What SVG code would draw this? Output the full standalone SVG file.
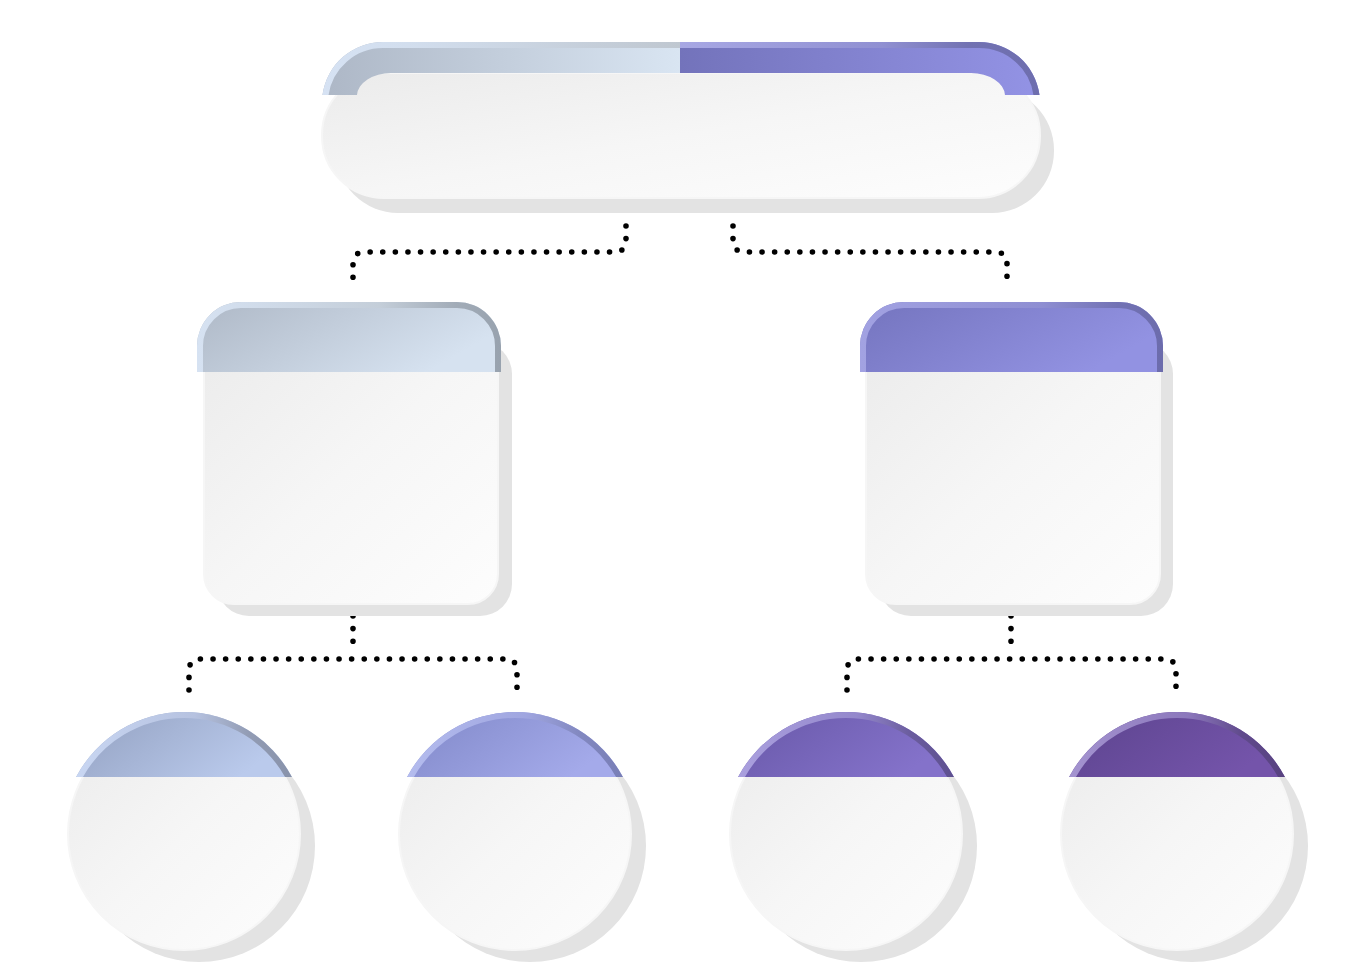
<svg xmlns="http://www.w3.org/2000/svg" width="1362" height="980" viewBox="0 0 1362 980">
  <style>
    .shadow { fill: #e3e3e3; }
    .body { fill: url(#gBody); stroke: #f6f6f6; stroke-width: 2; }
    .rim { fill: none; stroke-width: 12; }
    .dots { fill: none; stroke: #000; stroke-width: 5.6; stroke-linecap: round; stroke-dasharray: 0 12.6; }
  </style>
  <defs>
    <linearGradient id="gBody" x1="0" y1="0" x2="1" y2="1">
      <stop offset="0" stop-color="#ebebeb"/>
      <stop offset="0.5" stop-color="#f6f6f6"/>
      <stop offset="1" stop-color="#fdfdfd"/>
    </linearGradient>
    <linearGradient id="gTopHead" gradientUnits="userSpaceOnUse" x1="322" y1="0" x2="1040" y2="0">
      <stop offset="0" stop-color="#adb7c6"/>
      <stop offset="0.4986" stop-color="#d9e5f2"/>
      <stop offset="0.4986" stop-color="#7373bb"/>
      <stop offset="1" stop-color="#9393e5"/>
    </linearGradient>
    <linearGradient id="gTopRim" gradientUnits="userSpaceOnUse" x1="322" y1="0" x2="1040" y2="0">
      <stop offset="0" stop-color="#d6e2f3"/>
      <stop offset="0.12" stop-color="#d2deee"/>
      <stop offset="0.4986" stop-color="#bfc7d0"/>
      <stop offset="0.4986" stop-color="#a8a8e4"/>
      <stop offset="0.78" stop-color="#9090d2"/>
      <stop offset="0.9" stop-color="#7272b2"/>
      <stop offset="1" stop-color="#6e6eae"/>
    </linearGradient>
    <linearGradient id="gSqL" x1="0" y1="0" x2="1" y2="0.4">
      <stop offset="0" stop-color="#aeb8c6"/>
      <stop offset="1" stop-color="#d6e2f0"/>
    </linearGradient>
    <linearGradient id="gSqLRim" x1="0" y1="0" x2="1" y2="0">
      <stop offset="0" stop-color="#d6e2f2"/>
      <stop offset="0.6" stop-color="#c4ced9"/>
      <stop offset="0.85" stop-color="#a2acb8"/>
      <stop offset="1" stop-color="#98a2ae"/>
    </linearGradient>
    <linearGradient id="gSqR" x1="0" y1="0" x2="1" y2="0.4">
      <stop offset="0" stop-color="#7474be"/>
      <stop offset="1" stop-color="#9292e2"/>
    </linearGradient>
    <linearGradient id="gSqRRim" x1="0" y1="0" x2="1" y2="0">
      <stop offset="0" stop-color="#a2a2e2"/>
      <stop offset="0.6" stop-color="#8e8ed2"/>
      <stop offset="0.85" stop-color="#7272b4"/>
      <stop offset="1" stop-color="#6c6cac"/>
    </linearGradient>
    <linearGradient id="gC1" x1="0" y1="0" x2="1" y2="0.4">
      <stop offset="0" stop-color="#92a0c0"/>
      <stop offset="1" stop-color="#bacaec"/>
    </linearGradient>
    <linearGradient id="gC1Rim" x1="0" y1="0" x2="1" y2="0">
      <stop offset="0" stop-color="#c8d6f2"/>
      <stop offset="0.55" stop-color="#b6c2e0"/>
      <stop offset="0.8" stop-color="#929cb4"/>
      <stop offset="1" stop-color="#8892aa"/>
    </linearGradient>
    <linearGradient id="gC2" x1="0" y1="0" x2="1" y2="0.4">
      <stop offset="0" stop-color="#8088c8"/>
      <stop offset="1" stop-color="#a4aaea"/>
    </linearGradient>
    <linearGradient id="gC2Rim" x1="0" y1="0" x2="1" y2="0">
      <stop offset="0" stop-color="#b4bcee"/>
      <stop offset="0.55" stop-color="#a0a6e0"/>
      <stop offset="0.8" stop-color="#8288c0"/>
      <stop offset="1" stop-color="#787eb6"/>
    </linearGradient>
    <linearGradient id="gC3" x1="0" y1="0" x2="1" y2="0.4">
      <stop offset="0" stop-color="#6858a8"/>
      <stop offset="1" stop-color="#8472ca"/>
    </linearGradient>
    <linearGradient id="gC3Rim" x1="0" y1="0" x2="1" y2="0">
      <stop offset="0" stop-color="#aaa0de"/>
      <stop offset="0.55" stop-color="#9488cc"/>
      <stop offset="0.8" stop-color="#6a5c9e"/>
      <stop offset="1" stop-color="#5e5090"/>
    </linearGradient>
    <linearGradient id="gC4" x1="0" y1="0" x2="1" y2="0.4">
      <stop offset="0" stop-color="#5c448e"/>
      <stop offset="1" stop-color="#7454aa"/>
    </linearGradient>
    <linearGradient id="gC4Rim" x1="0" y1="0" x2="1" y2="0">
      <stop offset="0" stop-color="#a494d0"/>
      <stop offset="0.55" stop-color="#8c78bc"/>
      <stop offset="0.8" stop-color="#604a8c"/>
      <stop offset="1" stop-color="#584280"/>
    </linearGradient>

    <path id="pTopHead" d="M322.5,95 A61,61 0 0 1 383,42 H979 A61,61 0 0 1 1039.5,95 H1005 A34,23 0 0 0 971,73 H391 A34,23 0 0 0 357,95 Z"/>
    <clipPath id="cTopHead"><use href="#pTopHead"/></clipPath>

    <path id="pSqL" d="M197,372 V346 A44,44 0 0 1 241,302 H457 A44,44 0 0 1 501,346 V372 Z"/>
    <clipPath id="cSqL"><use href="#pSqL"/></clipPath>
    <path id="pSqR" d="M860,372 V346 A44,44 0 0 1 904,302 H1119 A44,44 0 0 1 1163,346 V372 Z"/>
    <clipPath id="cSqR"><use href="#pSqR"/></clipPath>

    <path id="pCap" d="M-107.9,0 A122,122 0 0 1 107.9,0 Z"/>
    <clipPath id="cCap"><use href="#pCap"/></clipPath>
  </defs>

  <rect width="1362" height="980" fill="#ffffff"/>

  <g id="connectors">
    <path class="dots" d="M626,226 V240 Q626,252 614,252 H365 Q353,252 353,264 V286"/>
    <path class="dots" d="M733,226 V240 Q733,252 745,252 H995 Q1007,252 1007,264 V286"/>
    <path class="dots" d="M353,616 V647"/>
    <path class="dots" d="M189,690 V671 Q189,659 201,659 H505 Q517,659 517,671 V690"/>
    <path class="dots" d="M1011,616 V647"/>
    <path class="dots" d="M847,690 V671 Q847,659 859,659 H1164 Q1176,659 1176,671 V690"/>
  </g>

  <g id="node-top">
    <rect class="shadow" x="336" y="88" width="718" height="125" rx="62"/>
    <rect class="body" x="322" y="73" width="718" height="125" rx="62"/>
    <use href="#pTopHead" fill="url(#gTopHead)"/>
    <path class="rim" clip-path="url(#cTopHead)" stroke="url(#gTopRim)" d="M322.5,95 A61,61 0 0 1 383,42 H979 A61,61 0 0 1 1039.5,95"/>
  </g>

  <g id="node-left">
    <rect class="shadow" x="217" y="342" width="295" height="274" rx="32"/>
    <rect class="body" x="204" y="330" width="294" height="274" rx="30"/>
    <use href="#pSqL" fill="url(#gSqL)"/>
    <path class="rim" clip-path="url(#cSqL)" stroke="url(#gSqLRim)" d="M197,372 V346 A44,44 0 0 1 241,302 H457 A44,44 0 0 1 501,346 V372"/>
  </g>

  <g id="node-right">
    <rect class="shadow" x="879" y="342" width="294" height="274" rx="32"/>
    <rect class="body" x="866" y="330" width="294" height="274" rx="30"/>
    <use href="#pSqR" fill="url(#gSqR)"/>
    <path class="rim" clip-path="url(#cSqR)" stroke="url(#gSqRRim)" d="M860,372 V346 A44,44 0 0 1 904,302 H1119 A44,44 0 0 1 1163,346 V372"/>
  </g>

  <g id="circle-1" transform="translate(184,834)">
    <circle class="shadow" cx="15" cy="12" r="116"/>
    <circle class="body" cx="0" cy="0" r="116"/>
    <g transform="translate(0,-57)">
      <use href="#pCap" fill="url(#gC1)"/>
      <path class="rim" clip-path="url(#cCap)" stroke="url(#gC1Rim)" d="M-107.9,0 A122,122 0 0 1 107.9,0"/>
    </g>
  </g>

  <g id="circle-2" transform="translate(515,834)">
    <circle class="shadow" cx="15" cy="12" r="116"/>
    <circle class="body" cx="0" cy="0" r="116"/>
    <g transform="translate(0,-57)">
      <use href="#pCap" fill="url(#gC2)"/>
      <path class="rim" clip-path="url(#cCap)" stroke="url(#gC2Rim)" d="M-107.9,0 A122,122 0 0 1 107.9,0"/>
    </g>
  </g>

  <g id="circle-3" transform="translate(846,834)">
    <circle class="shadow" cx="15" cy="12" r="116"/>
    <circle class="body" cx="0" cy="0" r="116"/>
    <g transform="translate(0,-57)">
      <use href="#pCap" fill="url(#gC3)"/>
      <path class="rim" clip-path="url(#cCap)" stroke="url(#gC3Rim)" d="M-107.9,0 A122,122 0 0 1 107.9,0"/>
    </g>
  </g>

  <g id="circle-4" transform="translate(1177,834)">
    <circle class="shadow" cx="15" cy="12" r="116"/>
    <circle class="body" cx="0" cy="0" r="116"/>
    <g transform="translate(0,-57)">
      <use href="#pCap" fill="url(#gC4)"/>
      <path class="rim" clip-path="url(#cCap)" stroke="url(#gC4Rim)" d="M-107.9,0 A122,122 0 0 1 107.9,0"/>
    </g>
  </g>
</svg>
